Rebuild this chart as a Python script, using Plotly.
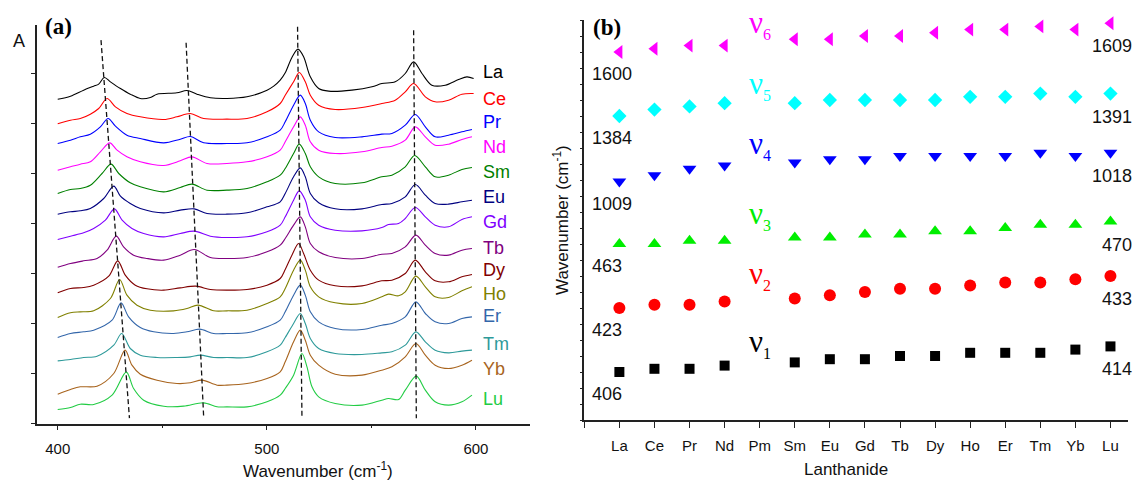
import plotly.graph_objects as go

W, H = 1136, 480
SANS = "Arial, Liberation Sans, sans-serif"
SERIF = "Times New Roman, Liberation Serif, serif"

# ---------------- Panel (a): stacked IR spectra (arbitrary absorbance units, offset) ----------------
spec_names = ["La", "Ce", "Pr", "Nd", "Sm", "Eu", "Gd", "Tb", "Dy", "Ho", "Er", "Tm", "Yb", "Lu"]
spec_colors = ["#000000", "#FF0000", "#0000FF", "#FF00FF", "#008000", "#000080", "#8000FF",
               "#800080", "#800000", "#808000", "#3366AA", "#2E9A9A", "#A8641E", "#22CC44"]

la_x = [400, 406.1, 412.4, 417.2, 419.6, 422.3, 425.2, 430.0, 434.7, 439.5, 444.3, 447.5, 457.0, 461.8, 466.6, 473.0, 480.9, 490.5, 500.1, 503.3, 506.4, 508.8, 512.0, 514.9, 517.6, 520.8, 524.8, 529.6, 540.7, 550.3, 555.0, 561.4, 566.2, 570.2, 574.2, 578.9, 585.3, 591.7, 595.7, 598.9]
la_y = [973, 982, 1000, 1012, 1018, 1038, 1025, 1005, 988, 975, 978, 988, 992, 999, 988, 977, 975, 980, 1000, 1012, 1030, 1052, 1098, 1123, 1100, 1040, 1005, 997, 1000, 1010, 1020, 1025, 1050, 1085, 1050, 1015, 1015, 1032, 1040, 1035]

ce_x = [400, 406.1, 410.8, 415.6, 419.6, 423.6, 427.6, 433.1, 439.5, 450.7, 457.0, 463.4, 469.8, 480.9, 490.5, 500.1, 506.4, 508.8, 512.8, 515.5, 518.4, 520.8, 524.8, 532.7, 545.5, 555.0, 561.4, 566.2, 570.2, 575.8, 580.5, 586.9, 593.3, 598.9]
ce_y = [899, 910, 915, 928, 945, 975, 950, 930, 920, 912, 920, 930, 915, 913, 915, 935, 960, 985, 1025, 1053, 1025, 985, 955, 942, 948, 960, 970, 995, 1020, 980, 965, 970, 988, 990]

pr_x = [400, 406.1, 410.8, 415.6, 420.4, 424.1, 427.6, 433.1, 439.5, 450.7, 458.6, 463.4, 469.8, 480.9, 490.5, 500.1, 506.4, 508.8, 512.8, 516.0, 518.4, 520.8, 524.8, 532.7, 545.5, 555.0, 559.8, 566.2, 571.0, 575.8, 580.5, 586.9, 593.3, 598.1]
pr_y = [840, 850, 860, 868, 890, 915, 892, 865, 855, 842, 853, 861, 842, 840, 842, 860, 880, 905, 955, 985, 960, 910, 875, 858, 860, 868, 870, 895, 927, 890, 860, 865, 875, 882]

nd_x = [400, 406.1, 410.8, 415.6, 420.4, 424.9, 428.4, 433.1, 439.5, 450.7, 458.6, 464.2, 471.4, 480.9, 490.5, 500.1, 506.4, 508.8, 512.8, 516.0, 518.4, 520.8, 524.8, 532.7, 545.5, 555.0, 559.8, 566.2, 571.0, 575.8, 580.5, 586.9, 593.3, 598.1]
nd_y = [760, 770, 778, 785, 815, 842, 820, 800, 785, 774, 788, 800, 780, 780, 785, 800, 820, 845, 890, 920, 895, 845, 820, 810, 815, 828, 832, 850, 890, 860, 835, 838, 852, 860]

sm_x = [400, 406.1, 410.8, 415.6, 421.2, 425.5, 429.2, 434.7, 439.5, 450.7, 458.6, 464.2, 471.4, 480.9, 490.5, 500.1, 506.4, 508.8, 512.8, 515.5, 518.4, 520.8, 524.8, 532.7, 545.5, 555.0, 559.8, 566.2, 570.7, 575.8, 580.5, 586.9, 593.3, 598.1]
sm_y = [690, 702, 705, 715, 750, 778, 750, 722, 710, 695, 708, 718, 700, 700, 705, 725, 745, 765, 810, 838, 810, 770, 740, 720, 722, 740, 745, 770, 804, 770, 740, 745, 762, 768]

eu_x = [400, 406.1, 410.8, 415.6, 422.0, 426.8, 430.0, 434.7, 439.5, 450.7, 458.6, 465.3, 471.4, 480.9, 490.5, 500.1, 506.4, 508.8, 512.8, 516.0, 518.4, 520.8, 524.8, 532.7, 545.5, 555.0, 559.8, 566.2, 571.0, 575.8, 580.5, 586.9, 593.3, 598.1]
eu_y = [628, 635, 638, 645, 675, 712, 682, 660, 645, 632, 640, 644, 630, 628, 632, 650, 665, 690, 740, 767, 740, 690, 662, 644, 644, 657, 660, 680, 717, 685, 660, 658, 665, 670]

gd_x = [400, 406.1, 412.4, 417.2, 422.8, 427.1, 430.8, 435.5, 441.1, 450.7, 458.6, 465.3, 473.0, 480.9, 490.5, 500.1, 506.4, 508.8, 512.8, 515.5, 518.4, 520.8, 524.8, 532.7, 545.5, 555.0, 558.2, 563.0, 566.2, 571.0, 575.8, 580.5, 586.9, 593.3, 598.1]
gd_y = [552, 562, 572, 585, 610, 644, 610, 585, 570, 560, 570, 577, 562, 558, 560, 575, 595, 620, 670, 698, 670, 620, 595, 580, 578, 588, 597, 600, 615, 648, 620, 595, 590, 612, 620]

tb_x = [400, 406.1, 412.4, 418.8, 423.6, 428.0, 431.5, 436.3, 442.7, 450.7, 458.6, 465.3, 473.0, 480.9, 490.5, 500.1, 506.4, 508.8, 512.8, 516.0, 518.4, 520.8, 524.8, 532.7, 545.5, 555.0, 559.8, 566.2, 571.3, 575.8, 580.5, 586.9, 593.3, 598.1]
tb_y = [469, 480, 488, 495, 520, 562, 530, 505, 495, 490, 505, 522, 498, 495, 498, 515, 535, 555, 595, 620, 590, 540, 515, 498, 495, 508, 510, 530, 565, 535, 510, 505, 520, 525]

dy_x = [400, 406.1, 412.4, 417.2, 424.4, 428.7, 432.3, 437.1, 442.7, 450.7, 458.6, 466.1, 473.0, 480.9, 490.5, 500.1, 506.4, 508.8, 512.0, 515.2, 517.6, 520.8, 524.8, 532.7, 545.5, 555.0, 559.8, 566.2, 571.0, 575.8, 580.5, 586.9, 593.3, 598.1]
dy_y = [392, 405, 408, 415, 442, 488, 445, 415, 404, 400, 407, 412, 402, 400, 402, 415, 435, 462, 505, 540, 510, 460, 430, 413, 413, 428, 430, 450, 490, 455, 428, 425, 440, 447]

ho_x = [400, 406.1, 410.8, 417.2, 425.2, 429.6, 433.1, 437.9, 444.3, 455.4, 461.8, 467.1, 474.6, 480.9, 490.5, 500.1, 506.4, 508.8, 512.8, 516.0, 518.4, 520.8, 524.8, 532.7, 545.5, 555.0, 558.2, 563.0, 566.2, 571.3, 575.8, 580.5, 586.9, 593.3, 598.1]
ho_y = [318, 332, 335, 338, 375, 432, 385, 355, 340, 338, 345, 355, 338, 338, 340, 360, 380, 405, 460, 490, 460, 410, 380, 362, 360, 380, 388, 383, 395, 442, 410, 380, 378, 398, 410]

er_x = [400, 406.1, 412.4, 417.2, 426.0, 430.3, 433.9, 439.5, 445.9, 455.4, 461.8, 467.9, 474.6, 480.9, 490.5, 500.1, 506.4, 508.8, 512.8, 516.0, 518.4, 520.8, 524.8, 532.7, 545.5, 555.0, 559.8, 566.2, 571.3, 575.8, 580.5, 586.9, 593.3, 598.1]
er_y = [258, 270, 275, 280, 310, 362, 320, 288, 275, 270, 275, 283, 270, 270, 272, 290, 310, 335, 385, 415, 385, 335, 305, 285, 282, 295, 300, 320, 365, 330, 305, 300, 315, 320]

tm_x = [400, 406.1, 412.4, 418.8, 426.8, 430.6, 434.7, 439.5, 447.5, 457.0, 463.4, 468.2, 474.6, 480.9, 490.5, 500.1, 506.4, 508.8, 512.8, 516.0, 518.4, 520.8, 524.8, 532.7, 545.5, 555.0, 559.8, 566.2, 571.3, 575.8, 580.5, 586.9, 593.3, 598.1]
tm_y = [188, 192, 198, 202, 235, 270, 225, 205, 198, 198, 200, 205, 198, 198, 198, 215, 235, 258, 300, 330, 300, 255, 225, 210, 207, 212, 215, 235, 275, 245, 220, 212, 217, 220]

yb_x = [400, 406.1, 410.8, 418.8, 426.8, 432.2, 435.5, 439.5, 447.5, 457.0, 463.4, 469.0, 476.2, 480.9, 490.5, 500.1, 506.4, 508.8, 512.8, 516.0, 518.4, 520.8, 524.8, 532.7, 545.5, 555.0, 559.8, 566.2, 571.3, 575.8, 580.5, 586.9, 593.3, 598.1]
yb_y = [88, 102, 110, 112, 150, 220, 175, 148, 130, 120, 122, 130, 115, 115, 120, 135, 155, 185, 245, 280, 250, 205, 175, 148, 145, 160, 170, 200, 240, 205, 175, 165, 175, 190]

lu_x = [400, 406.1, 410.8, 417.2, 426.0, 432.8, 436.3, 441.1, 450.7, 460.2, 469.8, 476.2, 480.9, 490.5, 500.1, 506.4, 508.8, 512.8, 516.8, 519.2, 521.6, 524.8, 532.7, 545.5, 555.0, 558.2, 563.0, 566.2, 571.5, 575.8, 580.5, 586.9, 593.3, 598.1]
lu_y = [42, 48, 58, 57, 85, 154, 105, 70, 52, 52, 62, 50, 50, 50, 65, 85, 105, 145, 210, 170, 110, 80, 60, 55, 70, 75, 72, 100, 142, 100, 65, 55, 65, 85]

spec_x = [la_x, ce_x, pr_x, nd_x, sm_x, eu_x, gd_x, tb_x, dy_x, ho_x, er_x, tm_x, yb_x, lu_x]
spec_y = [la_y, ce_y, pr_y, nd_y, sm_y, eu_y, gd_y, tb_y, dy_y, ho_y, er_y, tm_y, yb_y, lu_y]

# band-shift guide lines (dashed)
guide_top_x = [420.7, 461.4, 514.7, 570.2]
guide_bot_x = [434.3, 469.8, 516.8, 571.5]
guide_top_y = [1150, 1142, 1190, 1180]
guide_bot_y = [16, 19, 20, 16]

# ---------------- Panel (b): band positions vs lanthanide ----------------
lanth_b = ["La", "Ce", "Pr", "Nd", "Pm", "Sm", "Eu", "Gd", "Tb", "Dy", "Ho", "Er", "Tm", "Yb", "Lu"]
nu1 = [406, 407, 407, 408, None, 409, 410, 410, 411, 411, 412, 412, 412, 413, 414]
nu2 = [423, 424, 424, 425, None, 426, 427, 428, 429, 429, 430, 431, 431, 432, 433]
nu3 = [463, 463, 464, 464, None, 465, 465, 466, 466, 467, 467, 468, 469, 469, 470]
nu4 = [1009, 1011, 1013, 1014, None, 1015, 1016, 1016, 1017, 1017, 1017, 1017, 1018, 1017, 1018]
nu5 = [1384, 1386, 1387, 1388, None, 1388, 1389, 1389, 1389, 1389, 1390, 1390, 1391, 1390, 1391]
nu6 = [1600, 1601, 1602, 1602, None, 1604, 1604, 1605, 1605, 1606, 1607, 1607, 1608, 1607, 1609]

# ---------------- layout constants ----------------
band_names = ["1", "2", "3", "4", "5", "6"]
band_series = [nu1, nu2, nu3, nu4, nu5, nu6]
band_offsets = [391, 388, 408, 934.5, 1289, 1485]     # vertical stacking of the bands
band_colors = ["#000000", "#FF0000", "#00EE00", "#0000FF", "#00FFFF", "#FF00FF"]
band_symbols = ["square", "circle", "triangle-up", "triangle-down", "diamond", "triangle-left"]
band_sizes = [10, 12, 12, 12, 11, 12]
band_label_u = [24.2, 45.2, 64.2, 85.9, 104.8, 123.6]
spec_label_y = [1055, 973, 905, 830, 755, 680, 605, 527, 460, 388, 322, 240, 165, 75]

fig = go.Figure()

# panel (a) spectra
for name, xs, ys, col in zip(spec_names, spec_x, spec_y, spec_colors):
    fig.add_trace(go.Scatter(x=xs, y=ys, mode="lines", name=name,
                             line=dict(color=col, width=1.1, shape="spline", smoothing=0.9),
                             xaxis="x", yaxis="y", showlegend=False, hoverinfo="skip"))
for xt, xb, yt, yb in zip(guide_top_x, guide_bot_x, guide_top_y, guide_bot_y):
    fig.add_trace(go.Scatter(x=[xt, xb], y=[yt, yb], mode="lines",
                             line=dict(color="#111111", width=1.3, dash="5px,3px"),
                             xaxis="x", yaxis="y", showlegend=False, hoverinfo="skip"))

# panel (b) markers
xi = list(range(len(lanth_b)))
for vals, off, col, sym, sz in zip(band_series, band_offsets, band_colors, band_symbols, band_sizes):
    u = [None if v is None else v - off for v in vals]
    fig.add_trace(go.Scatter(x=xi, y=u, mode="markers",
                             marker=dict(symbol=sym, size=sz, color=col, line=dict(width=0)),
                             xaxis="x2", yaxis="y2", showlegend=False, cliponaxis=False))

ann = []
# spectrum labels
for name, col, yl in zip(spec_names, spec_colors, spec_label_y):
    ann.append(dict(x=602.5, y=yl, xref="x", yref="y", text=name, showarrow=False,
                    xanchor="left", yanchor="middle", font=dict(family=SANS, size=18, color=col)))
# band labels and endpoint values
for bn, vals, off, col, lu in zip(band_names, band_series, band_offsets, band_colors, band_label_u):
    ann.append(dict(x=4, y=lu, xref="x2", yref="y2", xshift=-13, showarrow=False,
                    text="ν<sub><span style='font-size:16px'>" + bn + "</span></sub>",
                    xanchor="left", yanchor="middle",
                    font=dict(family=SERIF, size=31, color=col)))
    ann.append(dict(x=0, y=vals[0] - off, xref="x2", yref="y2", xshift=-29, yshift=-22,
                    text=str(vals[0]), showarrow=False, xanchor="left", yanchor="middle",
                    font=dict(family=SANS, size=18, color="#111111")))
    ann.append(dict(x=len(vals) - 1, y=vals[-1] - off, xref="x2", yref="y2", xshift=24, yshift=-23,
                    text=str(vals[-1]), showarrow=False, xanchor="right", yanchor="middle",
                    font=dict(family=SANS, size=18, color="#111111")))

def px(xp, yp):
    return xp / W, 1 - yp / H

for txt, (xp, yp), fnt in [
    ("<b>(a)</b>", (58, 26), dict(family=SERIF, size=23, color="#000")),
    ("<b>(b)</b>", (607, 27), dict(family=SERIF, size=23, color="#000")),
    ("A", (19, 41), dict(family=SANS, size=18, color="#111")),
    ("Wavenumber (cm<sup>-1</sup>)", (318, 470), dict(family=SANS, size=17, color="#111")),
    ("Lanthanide", (846, 469), dict(family=SANS, size=17, color="#111")),
]:
    x0, y0 = px(xp, yp)
    ann.append(dict(x=x0, y=y0, xref="paper", yref="paper", text=txt, showarrow=False,
                    xanchor="center", yanchor="middle", font=fnt))
x0, y0 = px(561, 220)
ann.append(dict(x=x0, y=y0, xref="paper", yref="paper", text="Wavenumber (cm<sup>-1</sup>)",
                showarrow=False, textangle=-90, xanchor="center", yanchor="middle",
                font=dict(family=SANS, size=17, color="#111")))

axis_common = dict(showgrid=False, zeroline=False, showline=True, linecolor="#222", linewidth=1.6,
                   ticks="outside", tickcolor="#222", tickwidth=1.4)

fig.update_layout(
    width=W, height=H, margin=dict(l=0, r=0, t=0, b=0),
    paper_bgcolor="white", plot_bgcolor="white",
    xaxis=dict(domain=[36.8 / W, 530.3 / W], range=[390, 626], anchor="y",
               tickvals=[400, 500, 600], ticklen=5,
               minor=dict(tickvals=[450, 550], ticks="outside", ticklen=3, tickcolor="#222", tickwidth=1.2),
               tickfont=dict(family=SANS, size=15, color="#111"), ticklabelstandoff=6, **axis_common),
    yaxis=dict(domain=[1 - 423.5 / H, 1 - 25 / H], range=[0, 1195.5], anchor="x",
               tick0=0, dtick=150, ticklen=4, showticklabels=False, **axis_common),
    xaxis2=dict(domain=[584.3 / W, 1128 / W], range=[-1, 14.5], anchor="y2",
                tickvals=[-1] + xi, ticktext=[""] + lanth_b, ticklen=6,
                tickfont=dict(family=SANS, size=15, color="#111"), ticklabelstandoff=5, **axis_common),
    yaxis2=dict(domain=[1 - 420 / H, 1 - 20 / H], range=[0, 125], anchor="x2",
                tick0=0, dtick=5, ticklen=3, showticklabels=False, **axis_common),
    annotations=ann,
)

fig.write_html("out.html", config={"displayModeBar": False},
               post_script="document.documentElement.style.margin='0';"
                           "document.body.style.margin='0';document.body.style.overflow='hidden';")
